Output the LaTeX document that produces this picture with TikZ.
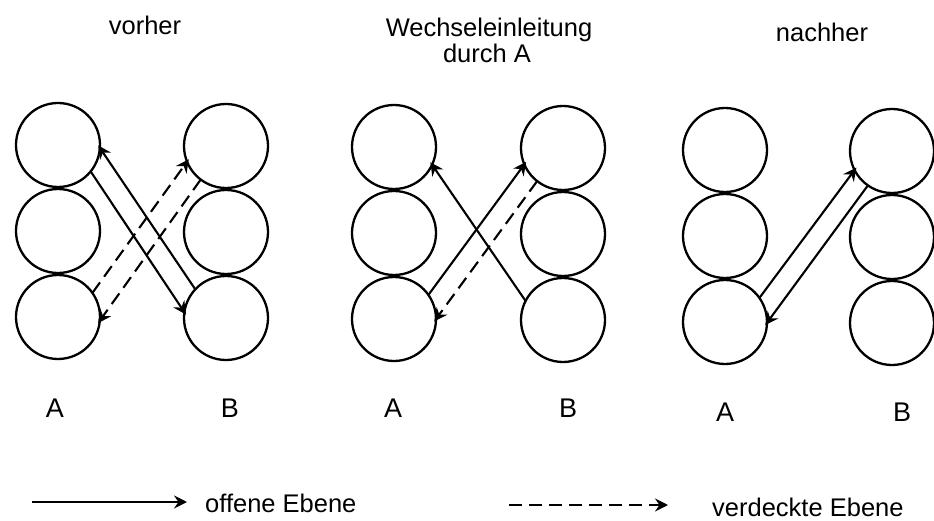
\documentclass[tikz,border=0pt]{standalone}
\usepackage{fontspec}
\setmainfont{Liberation Sans}
\usetikzlibrary{arrows.meta}
\begin{document}
\begin{tikzpicture}[x=1pt,y=-1pt,
  ring/.style={circle,draw,line width=2.3pt,minimum size=84pt,inner sep=0pt,outer sep=0pt},
  conn/.style={line width=2.1pt,-{Stealth[length=13pt,width=13pt,inset=4.5pt]},shorten >=-3pt},
  hidden/.style={conn,dash pattern=on 13pt off 7pt},
  title/.style={font=\fontsize{25.5}{26}\selectfont,anchor=base,inner sep=0pt},
  side/.style={font=\fontsize{27}{30}\selectfont,anchor=base,inner sep=0pt},
  legend/.style={font=\fontsize{25.5}{30}\selectfont,anchor=base west,inner sep=0pt}]
\useasboundingbox (0,0) rectangle (934,521);

% three stacks of three planes per side, for each of the three states
\foreach \p/\xa/\xb/\y in {1/58/226/145, 2/394/563/147, 3/725/892/150}{
  \foreach \r in {1,2,3}{
    \node[ring] (p\p a\r) at (\xa,{\y+86*(\r-1)}) {};
    \node[ring] (p\p b\r) at (\xb,{\y+1+86*(\r-1)}) {};
  }
}

% headings
\node[title] (t1) at (145,35) {vorher};
\node[title] (t2) at (489,37) {Wechseleinleitung};
\node[title] (t2b) at (487,63) {durch A};
\node[title] (t3) at (822,42) {nachher};

% side labels
\node[side] (la1) at (55,417) {A};
\node[side] (lb1) at (230,417) {B};
\node[side] (la2) at (393,417) {A};
\node[side] (lb2) at (568,417) {B};
\node[side] (la3) at (725,421) {A};
\node[side] (lb3) at (902,421) {B};

% before
\draw[conn] (p1a1.-39) -- (p1b3.172);
\draw[conn] (p1b3.137) -- (p1a1.-4);
\draw[hidden] (p1a3.35) -- (p1b1.-158);
\draw[hidden] (p1b1.-127) -- (p1a3.-5);

% change initiated by A
\draw[conn] (p2b3.153) -- (p2a1.-25);
\draw[conn] (p2a3.35) -- (p2b1.-157);
\draw[hidden] (p2b1.-128) -- (p2a3.0);

% after
\draw[conn] (p3a3.35) -- (p3b1.-153);
\draw[conn] (p3b1.-125) -- (p3a3.-1);

% legend
\coordinate (s0) at (32,502);
\coordinate (s1) at (184,502);
\coordinate (d0) at (509,505);
\coordinate (d1) at (665,505);
\draw[conn] (s0) -- (s1);
\draw[hidden] (d0) -- (d1);
\node[legend] (lo) at (205,512) {offene Ebene};
\node[legend] (lv) at (712,516) {verdeckte Ebene};
\end{tikzpicture}
\end{document}
